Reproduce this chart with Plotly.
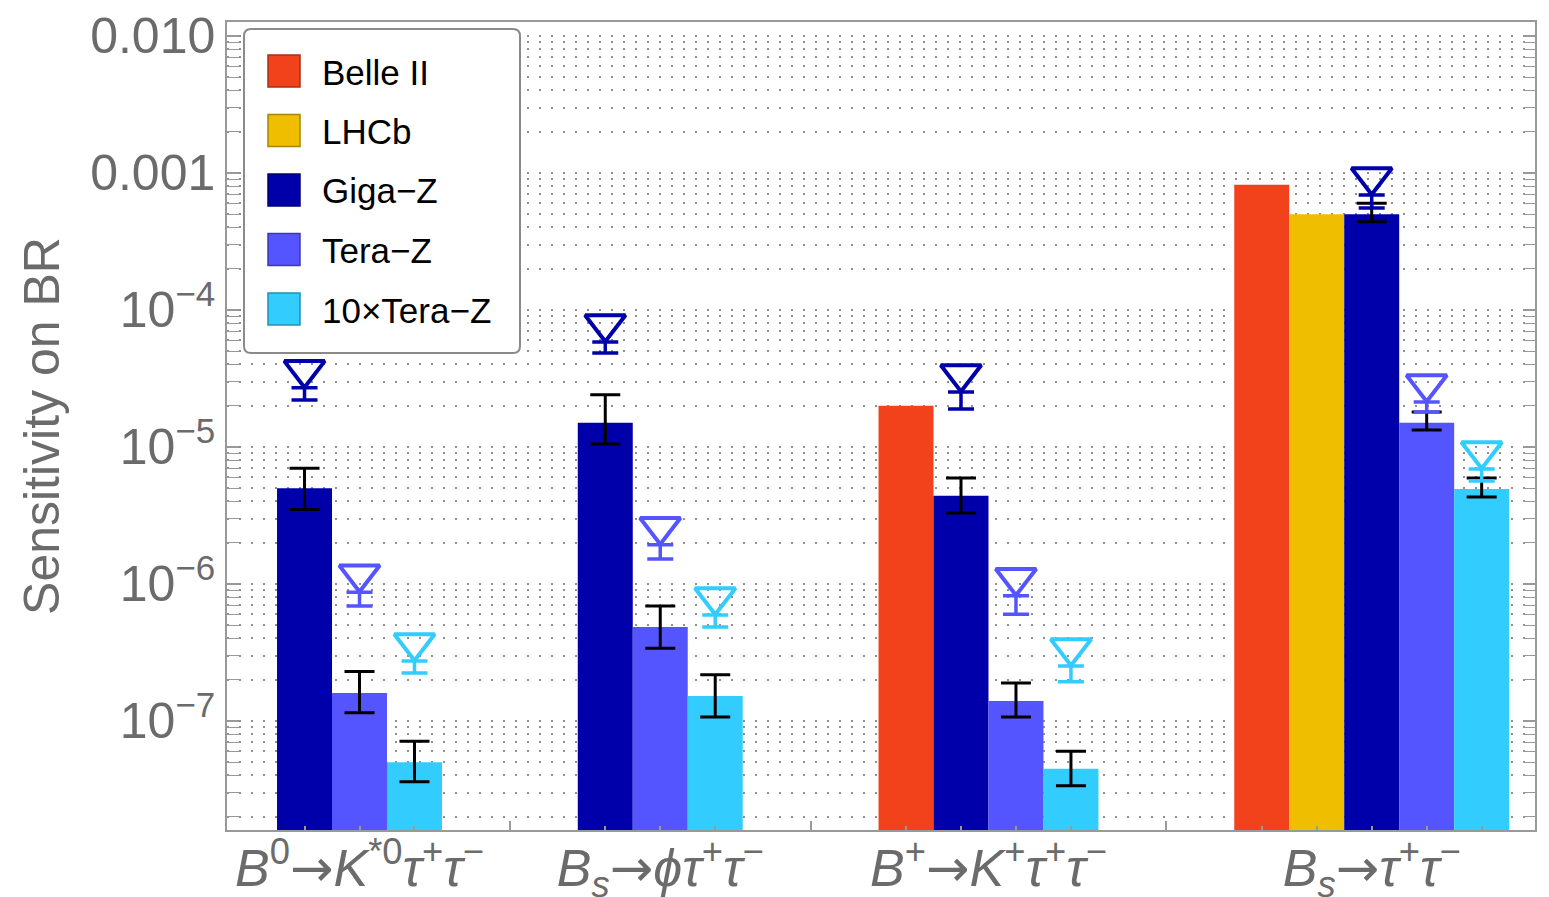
import plotly.graph_objects as go

# ---------------- data ----------------
ARW = '<span style="font-family:DejaVu Sans">→</span>'
group_labels = [
    "<i>B</i><sup>0</sup>" + ARW + "<i>K</i><sup>*0</sup><i>τ</i><sup>+</sup><i>τ</i><sup>−</sup>",
    "<i>B</i><sub><i>s</i></sub>" + ARW + "<i>ϕτ</i><sup>+</sup><i>τ</i><sup>−</sup>",
    "<i>B</i><sup>+</sup>" + ARW + "<i>K</i><sup>+</sup><i>τ</i><sup>+</sup><i>τ</i><sup>−</sup>",
    "<i>B</i><sub><i>s</i></sub>" + ARW + "<i>τ</i><sup>+</sup><i>τ</i><sup>−</sup>",
]
series_names = ["Belle II", "LHCb", "Giga−Z", "Tera−Z", "10×Tera−Z"]
series_colors = ["#F2421C", "#F0BE00", "#0000AA", "#5555FF", "#33CCFF"]

# bar values (sensitivity on BR), None = not available
belle = [None, None, 2.0e-5, 8.2e-4]
lhcb = [None, None, None, 5.0e-4]
giga = [5.0e-6, 1.5e-5, 4.4e-6, 5.0e-4]
tera = [1.6e-7, 4.85e-7, 1.4e-7, 1.5e-5]
tenx = [5.0e-8, 1.52e-7, 4.47e-8, 4.93e-6]

# black error bars (upper / lower ends)
giga_hi = [7.0e-6, 2.4e-5, 5.94e-6, 6.0e-4]
giga_lo = [3.5e-6, 1.05e-5, 3.3e-6, 4.4e-4]
tera_hi = [2.3e-7, 6.9e-7, 1.89e-7, 1.8e-5]
tera_lo = [1.15e-7, 3.4e-7, 1.07e-7, 1.33e-5]
tenx_hi = [7.1e-8, 2.17e-7, 6.0e-8, 5.94e-6]
tenx_lo = [3.6e-8, 1.07e-7, 3.36e-8, 4.31e-6]

# triangle (alternative) estimates: upper / lower ends
giga_alt_hi = [2.70e-5, 5.84e-5, 2.52e-5, 6.9e-4]
giga_alt_lo = [2.20e-5, 4.85e-5, 1.89e-5, 5.56e-4]
tera_alt_hi = [8.7e-7, 1.93e-6, 8.2e-7, 2.13e-5]
tera_alt_lo = [6.9e-7, 1.52e-6, 6.0e-7, 1.8e-5]
tenx_alt_hi = [2.74e-7, 5.94e-7, 2.52e-7, 6.9e-6]
tenx_alt_lo = [2.24e-7, 4.85e-7, 1.93e-7, 5.65e-6]

y_major_vals = [1e-7, 1e-6, 1e-5, 1e-4, 1e-3, 1e-2]
y_major_text = ["10<sup>−7</sup>", "10<sup>−6</sup>", "10<sup>−5</sup>", "10<sup>−4</sup>", "0.001", "0.010"]
y_title = "Sensitivity on BR"

# ---------------- layout helpers ----------------
values = [belle, lhcb, giga, tera, tenx]
errs_hi = [None, None, giga_hi, tera_hi, tenx_hi]
errs_lo = [None, None, giga_lo, tera_lo, tenx_lo]
alt_hi = [None, None, giga_alt_hi, tera_alt_hi, tenx_alt_hi]
alt_lo = [None, None, giga_alt_lo, tera_alt_lo, tenx_alt_lo]

BAR_W = 1.0
GAP = 2.47
PAD_L = 0.91
PAD_R = 0.47

ngroups = len(group_labels)
centers = [[None] * ngroups for _ in series_names]
group_centers, seps, bar_centers = [], [], []
pos = PAD_L
for g in range(ngroups):
    present = [i for i in range(len(series_names)) if values[i][g] is not None]
    start = pos
    for k, i in enumerate(present):
        c = start + (k + 0.5) * BAR_W
        centers[i][g] = c
        bar_centers.append(c)
    end = start + len(present) * BAR_W
    group_centers.append((start + end) / 2)
    if g < ngroups - 1:
        seps.append(end + GAP / 2)
    pos = end + GAP
xmax = pos - GAP + PAD_R

minor_vals = [m * 10.0 ** e for e in range(-8, -1) for m in range(2, 10)]

FONT = "Liberation Sans, Arial, Helvetica, sans-serif"
GRAY = "#6b6b6b"
AXGRAY = "#999999"
GRIDC = "#8f8f8f"

fig = go.Figure()

# bars
for i, name in enumerate(series_names):
    xs, ys, up, dn = [], [], [], []
    for g in range(ngroups):
        v = values[i][g]
        if v is None:
            continue
        xs.append(centers[i][g])
        ys.append(v)
        if errs_hi[i] is not None:
            up.append(errs_hi[i][g] - v)
            dn.append(v - errs_lo[i][g])
    err = None
    if errs_hi[i] is not None:
        err = dict(type="data", symmetric=False, array=up, arrayminus=dn,
                   color="black", thickness=3, width=15)
    fig.add_trace(go.Bar(x=xs, y=ys, width=BAR_W, name=name,
                         marker=dict(color=series_colors[i], line=dict(width=0)),
                         error_y=err, showlegend=False, hoverinfo="skip"))

# triangles with their error bars
for i, name in enumerate(series_names):
    if alt_hi[i] is None:
        continue
    xs = [centers[i][g] for g in range(ngroups)]
    ys = alt_hi[i]
    dn = [alt_hi[i][g] - alt_lo[i][g] for g in range(ngroups)]
    fig.add_trace(go.Scatter(
        x=xs, y=ys, mode="markers", showlegend=False, hoverinfo="skip",
        marker=dict(symbol="triangle-up-open", angle=180, standoff=18, size=35,
                    color=series_colors[i], line=dict(width=4, color=series_colors[i])),
        error_y=dict(type="data", symmetric=False, array=[0] * ngroups, arrayminus=dn,
                     color=series_colors[i], thickness=3.5, width=13),
    ))

# helper trace for separator ticks axis
fig.add_trace(go.Scatter(x=seps, y=[None] * len(seps), xaxis="x2", yaxis="y",
                         mode="markers", showlegend=False, hoverinfo="skip"))

# ---------------- custom legend ----------------
# plot area in screen pixels (page body has an 8px offset)
OFF = 8
FW, FH = 1549, 897
L, R, T, B = 227, 1535, 22, 830
W, H = R - L, B - T


def px(xp):
    return (xp - L) / W


def py(yp):
    return (B - yp) / H


bx0, bx1, by0, by1 = px(244), px(520), py(353), py(29)
rx, ry = 7 / W, 7 / H
path = (f"M{bx0 + rx},{by1} L{bx1 - rx},{by1} Q{bx1},{by1} {bx1},{by1 - ry} "
        f"L{bx1},{by0 + ry} Q{bx1},{by0} {bx1 - rx},{by0} L{bx0 + rx},{by0} "
        f"Q{bx0},{by0} {bx0},{by0 + ry} L{bx0},{by1 - ry} Q{bx0},{by1} {bx0 + rx},{by1} Z")
shapes = [dict(type="path", xref="paper", yref="paper", path=path,
               line=dict(color="#8a8a8a", width=2), fillcolor="white", layer="above")]
annotations = []


def darker(hexc, f=0.7):
    r, g, b = int(hexc[1:3], 16), int(hexc[3:5], 16), int(hexc[5:7], 16)
    return f"rgb({int(r * f)},{int(g * f)},{int(b * f)})"


for k, name in enumerate(series_names):
    cy = 71 + k * 59.5
    shapes.append(dict(type="rect", xref="paper", yref="paper",
                       x0=px(268), x1=px(300), y0=py(cy + 16), y1=py(cy - 16),
                       fillcolor=series_colors[k], line=dict(color=darker(series_colors[k]), width=1.5),
                       layer="above"))
    annotations.append(dict(xref="paper", yref="paper", x=px(320), y=py(cy + 1),
                            xanchor="left", yanchor="middle", showarrow=False,
                            text=name, font=dict(family=FONT, size=35, color="black")))

fig.update_layout(
    width=FW, height=FH,
    margin=dict(l=L - OFF, r=FW - R + OFF, t=T - OFF, b=FH - B + OFF),
    paper_bgcolor="white", plot_bgcolor="white",
    barmode="overlay", showlegend=False,
    font=dict(family=FONT, color=GRAY),
    shapes=shapes, annotations=annotations,
    xaxis=dict(range=[0, xmax], tickmode="array", tickvals=group_centers, ticktext=group_labels,
               ticks="", tickfont=dict(size=52, color=GRAY, family=FONT), automargin=False,
               ticklabelstandoff=-8,
               showgrid=False, zeroline=False, showline=True, linecolor=AXGRAY, linewidth=1.5,
               mirror=True,
               minor=dict(tickmode="array", tickvals=bar_centers, ticks="inside", ticklen=4,
                          tickcolor=AXGRAY, tickwidth=1.5, showgrid=False)),
    xaxis2=dict(range=[0, xmax], overlaying="x", anchor="y", side="bottom", automargin=False,
                tickmode="array", tickvals=seps, ticks="inside", ticklen=9,
                tickcolor=AXGRAY, tickwidth=1.5, showticklabels=False,
                showgrid=False, zeroline=False, showline=False),
    yaxis=dict(type="log", range=[-7.796, -1.898], tickmode="array",
               tickvals=y_major_vals, ticktext=y_major_text, automargin=False,
               ticks="inside", ticklen=12, tickcolor=AXGRAY, tickwidth=1.5,
               tickfont=dict(size=50, color=GRAY, family=FONT),
               showline=True, linecolor=AXGRAY, linewidth=1.5, mirror="allticks",
               showgrid=True, gridcolor=GRIDC, gridwidth=2, griddash="2px,10px",
               zeroline=False,
               title=dict(text=y_title, font=dict(size=50, color=GRAY, family=FONT), standoff=15),
               minor=dict(tickmode="array", tickvals=minor_vals, ticks="inside", ticklen=6,
                          tickcolor=AXGRAY, tickwidth=1.2, showgrid=True,
                          gridcolor=GRIDC, gridwidth=2, griddash="2px,10px")),
)

fig.write_html("out.html")
